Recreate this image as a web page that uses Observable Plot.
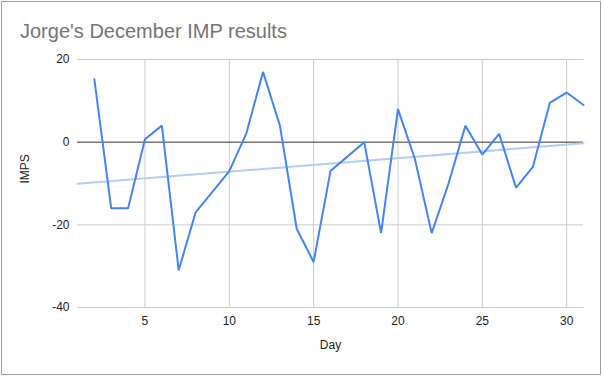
<!DOCTYPE html>
<html>
<head>
<meta charset="utf-8">
<script src="https://cdn.jsdelivr.net/npm/d3@7"></script>
<script src="https://cdn.jsdelivr.net/npm/@observablehq/plot@0.6"></script>
<style>
  html, body { margin: 0; padding: 0; background: #fff; }
  #wrap { position: relative; width: 602px; height: 376px; overflow: hidden; font-family: Arial, "Liberation Sans", sans-serif; }
  #frame { position: absolute; left: 1px; top: 1px; width: 598px; height: 372px; border: 1px solid #9e9e9e; box-sizing: content-box; pointer-events: none; }
  #title { position: absolute; left: 20px; top: 20px; font-size: 20px; color: #757575; white-space: nowrap; }
  #chart { position: absolute; left: 0; top: 0; }
</style>
</head>
<body>
<div id="wrap">
  <div id="chart"></div>
  <div id="title">Jorge's December IMP results</div>
  <div id="frame"></div>
</div>
<script>
const days = [2, 3, 4, 5, 6, 7, 8, 9, 10, 11, 12, 13, 14, 15, 16, 17, 18, 19, 20, 21, 22, 23, 24, 25, 26, 27, 28, 29, 30, 31];
const imps = [15.2, -16, -16, 0.7, 4, -31, -17, -12, -7, 2, 17, 4, -21, -29, -7, -3.5, 0, -22, 8, -4, -22, -10, 4, -3, 2, -11, -6, 9.5, 12, 9];
const xTicks = [5, 10, 15, 20, 25, 30];
const yTicks = [-40, -20, 0, 20];
const xDomain = [1, 31];
const yDomain = [-40, 20];

const data = days.map((d, i) => ({day: d, imp: imps[i]}));

// least-squares trend line, drawn across the full x domain (as the source chart does)
const mx = d3.mean(days), my = d3.mean(imps);
const slope = d3.sum(days, (d, i) => (d - mx) * (imps[i] - my)) / d3.sum(days, d => (d - mx) ** 2);
const trend = xDomain.map(x => ({day: x, imp: my + slope * (x - mx)}));

const chart = Plot.plot({
  width: 602,
  height: 376,
  marginLeft: 77,
  marginRight: 19,
  marginTop: 59,
  marginBottom: 69,
  style: {fontFamily: 'Arial, "Liberation Sans", sans-serif', fontSize: "12px", color: "#222", background: "transparent"},
  x: {domain: xDomain, ticks: xTicks, label: null},
  y: {domain: yDomain, ticks: yTicks, label: null},
  marks: [
    Plot.gridX(xTicks, {stroke: "#cccccc", strokeOpacity: 1, strokeWidth: 1}),
    Plot.gridY(yTicks.filter(v => v !== 0), {stroke: "#cccccc", strokeOpacity: 1, strokeWidth: 1}),
    Plot.ruleY([0], {stroke: "#333333", strokeWidth: 1}),
    Plot.axisX(xTicks, {tickSize: 0, tickPadding: 9, fontSize: 12, fill: "#222", label: null, tickFormat: d => String(d)}),
    Plot.axisY(yTicks, {tickSize: 0, tickPadding: 8, fontSize: 12, fill: "#222", label: null, tickFormat: d => String(d)}),
    Plot.line(trend, {x: "day", y: "imp", stroke: "#b3cefa", strokeWidth: 2}),
    Plot.line(data, {x: "day", y: "imp", stroke: "#4285F4", strokeWidth: 2, strokeLinejoin: "miter"}),
    Plot.text(["Day"], {frameAnchor: "bottom", dy: 41, text: d => d, fontSize: 12, fill: "#222"}),
    Plot.text(["IMPS"], {frameAnchor: "left", dx: -52, rotate: -90, text: d => d, fontSize: 12, fill: "#222"})
  ]
});
document.getElementById("chart").appendChild(chart);
</script>
</body>
</html>
